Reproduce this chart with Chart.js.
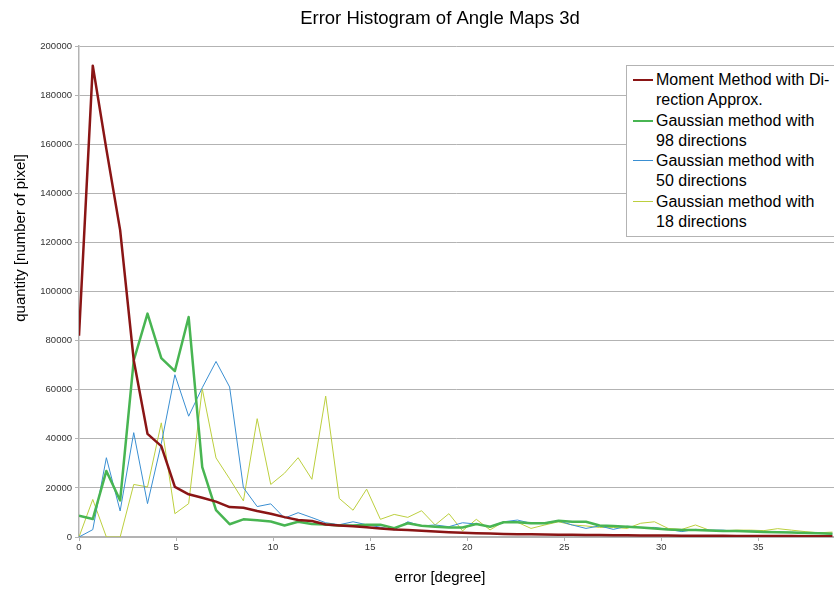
<!DOCTYPE html>
<html>
<head>
<meta charset="utf-8">
<script src="https://cdn.jsdelivr.net/npm/chart.js@4.4.1/dist/chart.umd.min.js"></script>
<style>
  body { margin: 0; background: #fff; }
  #contenedor { position: relative; width: 834px; height: 589px; overflow: hidden; }
  #leyenda {
    position: absolute; left: 626px; top: 65px; width: 212px; height: 172px;
    border: 1px solid #b3b3b3; background: #fff; box-sizing: border-box;
    font-family: "Liberation Sans", Arial, sans-serif; font-size: 16px; color: #000;
    padding-top: 4px;
  }
  .entrada { position: relative; padding-left: 29px; line-height: 20px; height: 40.5px; }
  .muestra { position: absolute; left: 6px; top: 9px; width: 20px; }
</style>
</head>
<body>
<div id="contenedor">
  <canvas id="grafico" width="834" height="589"></canvas>
  <div id="leyenda"></div>
</div>
<script>
// error bins (degree)
const errores = [0, 0.71, 1.41, 2.12, 2.82, 3.53, 4.24, 4.94, 5.65, 6.35, 7.06, 7.76, 8.47, 9.18,
  9.88, 10.59, 11.29, 12, 12.71, 13.41, 14.12, 14.82, 15.53, 16.24, 16.94, 17.65, 18.35, 19.06,
  19.76, 20.47, 21.18, 21.88, 22.59, 23.29, 24, 24.71, 25.41, 26.12, 26.82, 27.53, 28.24, 28.94,
  29.65, 30.35, 31.06, 31.76, 32.47, 33.18, 33.88, 34.59, 35.29, 36, 36.71, 37.41, 38.12, 38.82]

const momento = [82000, 192000, 158000, 125000, 72000, 42000, 37000, 20400, 17400, 16000, 14400,
  12200, 11900, 10600, 9500, 8100, 6900, 6500, 5100, 4700, 4400, 4000, 3500, 3100, 2900, 2500,
  2200, 1900, 1700, 1500, 1400, 1250, 1150, 1100, 1000, 950, 900, 850, 800, 750, 700, 650, 620,
  580, 550, 520, 500, 480, 450, 430, 400, 380, 360, 340, 320, 300]

const gauss98 = [8700, 7300, 26900, 14900, 71900, 91000, 72900, 67600, 89600, 28500, 10900, 5200,
  7200, 6800, 6300, 4700, 6200, 5300, 5100, 4700, 4700, 5000, 5000, 3600, 5600, 4600, 4200, 3900,
  3900, 5300, 4200, 6000, 6000, 5600, 5600, 6600, 6200, 6200, 4700, 4500, 4200, 3900, 3500, 3100,
  2900, 2900, 2600, 2400, 2400, 2200, 2000, 1900, 1800, 1600, 1500, 1300]

const gauss50 = [0, 3000, 32300, 10600, 42500, 13600, 38000, 66100, 49200, 60800, 71500, 61100,
  20100, 12400, 13500, 7700, 9900, 7900, 5800, 5000, 6200, 5000, 4000, 2900, 6200, 4500, 4900,
  4200, 5800, 5300, 4200, 6200, 6900, 5600, 5800, 6600, 4900, 3500, 4500, 3100, 4400, 3900, 3900,
  3100, 2200, 3100, 2800, 2800, 2200, 2400, 2200, 2000, 1900, 1700, 1500, 1300]

const gauss18 = [0, 15300, 0, 0, 21400, 20400, 46500, 9500, 13600, 60400, 32200, 23700, 14700,
  48200, 21400, 26000, 32300, 23500, 57400, 15700, 10900, 19500, 7200, 9200, 8000, 10700, 4900,
  9500, 2500, 7200, 2900, 6200, 6000, 3500, 4900, 6200, 4900, 4500, 3900, 3900, 3500, 5600, 6200,
  3500, 3100, 4900, 2800, 2500, 2800, 2800, 2600, 3400, 2800, 2200, 1700, 2000]

const nombres = [
  ["Moment Method with Di-", "rection Approx."],
  ["Gaussian method with", "98 directions"],
  ["Gaussian method with", "50 directions"],
  ["Gaussian method with", "18 directions"]
]

const fuente = '"Liberation Sans", Arial, sans-serif'

function serie(valores) {
  return valores.map((v, i) => ({ x: errores[i], y: v }))
}

// titulos dibujados a mano
const titulos = {
  id: "titulos",
  afterDraw(chart) {
    const c = chart.ctx
    c.save()
    c.fillStyle = "#000"
    c.textAlign = "center"
    c.textBaseline = "middle"
    c.font = "18.5px " + fuente
    c.fillText("Error Histogram of Angle Maps 3d", 440, 19)
    c.font = "15px " + fuente
    c.fillText("error [degree]", 440, 578)
    c.translate(21, 238)
    c.rotate(-Math.PI / 2)
    c.fillText("quantity [number of pixel]", 0, 0)
    c.restore()
  }
}

const grafico = new Chart(document.getElementById("grafico"), {
  type: "line",
  data: {
    datasets: [
      { label: nombres[0].join(""), data: serie(momento), borderColor: "#8a1515", borderWidth: 2.5 },
      { label: nombres[1].join(" "), data: serie(gauss98), borderColor: "#48b552", borderWidth: 2.5 },
      { label: nombres[2].join(" "), data: serie(gauss50), borderColor: "#3a8fd2", borderWidth: 1 },
      { label: nombres[3].join(" "), data: serie(gauss18), borderColor: "#bccf3e", borderWidth: 1 }
    ]
  },
  options: {
    responsive: false,
    animation: false,
    layout: { padding: { top: 46, right: 0, bottom: 0, left: 0 } },
    elements: { point: { radius: 0 }, line: { tension: 0, borderJoinStyle: "round" } },
    plugins: { legend: { display: false }, tooltip: { enabled: false } },
    scales: {
      x: {
        type: "linear",
        min: 0,
        max: 38.9,
        afterBuildTicks: s => { s.ticks = s.ticks.filter(t => t.value % 5 === 0) },
        afterFit: s => { s.height = 52 },
        ticks: { stepSize: 5, color: "#333", font: { family: fuente, size: 9.5 }, padding: 1 },
        grid: { drawOnChartArea: false, drawTicks: true, tickLength: 4, color: "#b3b3b3" },
        border: { color: "#b3b3b3", width: 1.5 }
      },
      y: {
        min: 0,
        max: 200000,
        afterFit: s => { s.width = 79 },
        ticks: {
          stepSize: 20000, color: "#333", font: { family: fuente, size: 9.5 }, padding: 3,
          callback: v => String(v)
        },
        grid: { color: "#b3b3b3", lineWidth: 1, tickLength: 4 },
        border: { color: "#b3b3b3", width: 1.5 }
      }
    }
  },
  plugins: [titulos]
})

// leyenda en html
const leyenda = document.getElementById("leyenda")
leyenda.innerHTML = grafico.data.datasets.map((d, i) => `
  <div class="entrada">
    <div class="muestra" style="border-top: ${d.borderWidth > 1 ? 2.5 : 1}px solid ${d.borderColor}"></div>
    ${nombres[i].join("<br>")}
  </div>`).join("")
</script>
</body>
</html>
